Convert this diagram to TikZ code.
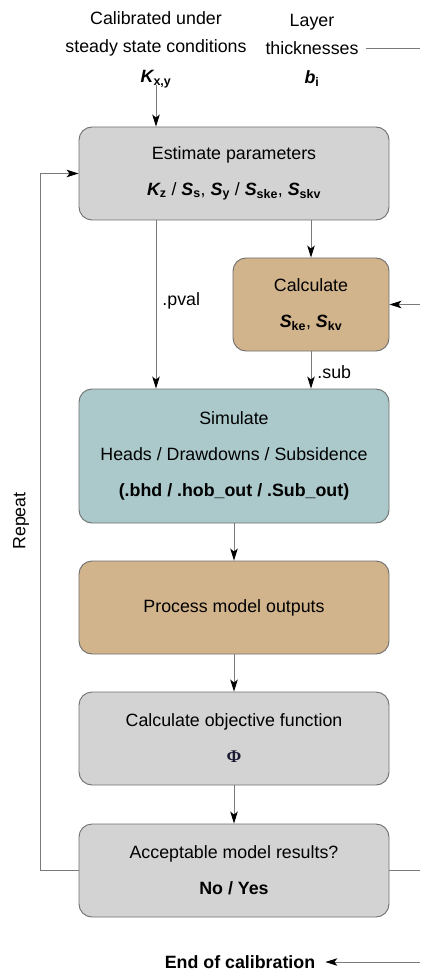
\documentclass[tikz,border=0pt]{standalone}
\usepackage{fontspec}
\setmainfont{Liberation Sans}
\newfontfamily\phifont{Liberation Serif}
\usetikzlibrary{arrows.meta}

\definecolor{boxgray}{HTML}{D3D3D3}
\definecolor{boxtan}{HTML}{D2B48C}
\definecolor{boxblue}{HTML}{ABC8CB}
\definecolor{edgegray}{HTML}{6E6E6E}
\definecolor{linegray}{HTML}{7A7A7A}
\definecolor{phinavy}{HTML}{1A1A33}

% bold italic symbol with bold upright index
\newcommand{\bsym}[2]{{\bfseries\itshape #1}\textsubscript{\bfseries #2}}

\tikzset{
    stage/.style = {draw = edgegray, line width = 0.9pt, rounded corners = 13pt,
        minimum width = 310pt, align = center, inner sep = 0pt,
        font = \fontsize{17.8}{36}\selectfont},
    conn/.style = {draw = linegray, line width = 0.9pt,
        -{Stealth[length = 12pt, width = 7.5pt, inset = 3pt, color = black]}},
    plainline/.style = {draw = linegray, line width = 0.9pt},
    lbl/.style = {font = \fontsize{17.8}{28}\selectfont, align = center, inner sep = 0pt}
}

\begin{document}
\begin{tikzpicture}[x = 1pt, y = -1pt]
    \useasboundingbox (0,0) rectangle (420,973);

    % inputs on top
    \node[lbl] (steady) at (156,34) {Calibrated under\\steady state conditions};
    \node[lbl] (kxy) at (156,79) {\bsym{K}{x,y}};
    \node[lbl] (layer) at (312,34) {Layer\\thicknesses};
    \node[lbl] (bi) at (312,79) {\bsym{b}{i}};

    % processing chain
    \node[stage, fill = boxgray, minimum height = 93pt] (est) at (234,173.5)
        {Estimate parameters\\\bsym{K}{z} / \bsym{S}{s}, \bsym{S}{y} / \bsym{S}{ske}, \bsym{S}{skv}};
    \node[stage, fill = boxtan, minimum width = 156pt, minimum height = 93pt] (calc) at (311,304.5)
        {Calculate\\\bsym{S}{ke}, \bsym{S}{kv}};
    \node[stage, fill = boxblue, minimum height = 134pt] (sim) at (234,456)
        {Simulate\\Heads / Drawdowns / Subsidence\\\textbf{(.bhd / .hob\_out / .Sub\_out)}};
    \node[stage, fill = boxtan, minimum height = 93pt] (proc) at (234,607.5)
        {Process model outputs};
    \node[stage, fill = boxgray, minimum height = 93pt] (obj) at (234,738.5)
        {Calculate objective function\\{\phifont\bfseries\color{phinavy}Φ}};
    \node[stage, fill = boxgray, minimum height = 93pt] (accept) at (234,870.5)
        {Acceptable model results?\\\textbf{No / Yes}};

    \node[lbl, rotate = 90] (repeat) at (21,521) {Repeat};
    \node[lbl, font = \fontsize{17.8}{20}\selectfont\bfseries] (endcal) at (240,962) {End of calibration};

    % free ends running off the right side
    \coordinate (layerout) at (420,48);
    \coordinate (calcin) at (420,304.5);
    \coordinate (acceptout) at (420,870.5);
    \coordinate (endin) at (420,962);
    \coordinate (loop) at (40,870.5);

    \draw[conn] (kxy.south) ++(0,-3) -- (est.north -| kxy);
    \draw[plainline] (layer.east |- layerout) ++(7,0) -- (layerout);
    \draw[conn] (est.south -| kxy) -- node[lbl, right = 6pt, pos = 0.48] (pval) {.pval} (sim.north -| kxy);
    \draw[conn] (est.south -| calc) -- (calc.north);
    \draw[conn] (calcin) -- (calc.east |- calcin);
    \draw[conn] (calc.south) -- node[lbl, right = 6pt, pos = 0.55] (sub) {.sub} (sim.north -| calc);
    \draw[conn] (sim.south) -- (proc.north);
    \draw[conn] (proc.south) -- (obj.north);
    \draw[conn] (obj.south) -- (accept.north);
    \draw[conn] (accept.west) -- (loop) |- (est.west);
    \draw[plainline] (accept.east) -- (acceptout);
    \draw[conn] (endin) -- ([xshift = 10pt]endcal.east);
\end{tikzpicture}
\end{document}
